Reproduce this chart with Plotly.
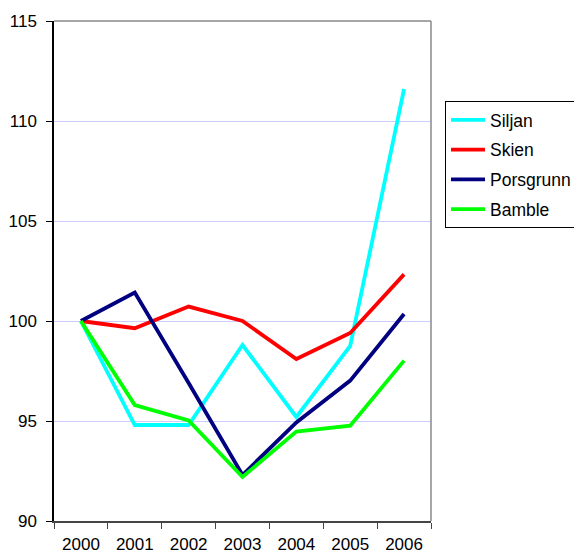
import plotly.graph_objects as go

years = ["2000", "2001", "2002", "2003", "2004", "2005", "2006"]
siljan = [100.0, 94.8, 94.8, 98.8, 95.2, 98.75, 111.6]
skien = [100.0, 99.64, 100.72, 100.0, 98.1, 99.4, 102.33]
porsgrunn = [100.0, 101.42, 96.9, 92.3, 94.93, 97.02, 100.35]
bamble = [100.0, 95.8, 95.03, 92.2, 94.47, 94.77, 98.02]

series = [
    ("Siljan", siljan, "#00FFFF"),
    ("Skien", skien, "#FF0000"),
    ("Porsgrunn", porsgrunn, "#000080"),
    ("Bamble", bamble, "#00FF00"),
]

FONT = "Arial, Liberation Sans, sans-serif"
W, H = 574, 545  # the page body has an 8px margin, so the figure sits at (8, 8)

fig = go.Figure()
for name, vals, color in series:
    fig.add_trace(go.Scatter(x=years, y=vals, name=name, mode="lines",
                             legendgroup=name,
                             line=dict(color=color, width=3.8)))

fig.update_layout(
    width=W, height=H,
    margin=dict(l=46, r=151, t=13, b=32, autoexpand=False),
    paper_bgcolor="white", plot_bgcolor="white",
    font=dict(family=FONT, size=17, color="black"),
    showlegend=True,
    legend=dict(xref="container", yref="container",
                x=437 / W, y=1 - 93 / H, xanchor="left", yanchor="top",
                bordercolor="black", borderwidth=1, itemwidth=34,
                font=dict(family=FONT, size=17.5, color="black"),
                tracegroupgap=4, bgcolor="white"),
    xaxis=dict(type="category", range=[-0.5, 6.5], tickson="boundaries",
               ticks="outside", ticklen=6, tickcolor="#444444",
               showline=True, linecolor="#444444", linewidth=1.5,
               showgrid=False, zeroline=False, ticklabelstandoff=7,
               automargin=False,
               tickfont=dict(family=FONT, size=17, color="black")),
    yaxis=dict(range=[90, 115], dtick=5, tick0=90,
               ticks="outside", ticklen=6, tickcolor="black",
               showline=True, linecolor="black", linewidth=1.5,
               showgrid=True, gridcolor="#CCCCFF", gridwidth=1,
               zeroline=False, ticklabelstandoff=6, automargin=False,
               tickfont=dict(family=FONT, size=17, color="black")),
)

# plot-area border on top and right (Excel style)
fig.add_shape(type="line", xref="paper", yref="paper", x0=0, x1=1, y0=1, y1=1,
              line=dict(color="#888888", width=1.5), layer="above")
fig.add_shape(type="line", xref="paper", yref="paper", x0=1, x1=1, y0=0, y1=1,
              line=dict(color="#888888", width=1.5), layer="above")

fig.write_html("out.html")
